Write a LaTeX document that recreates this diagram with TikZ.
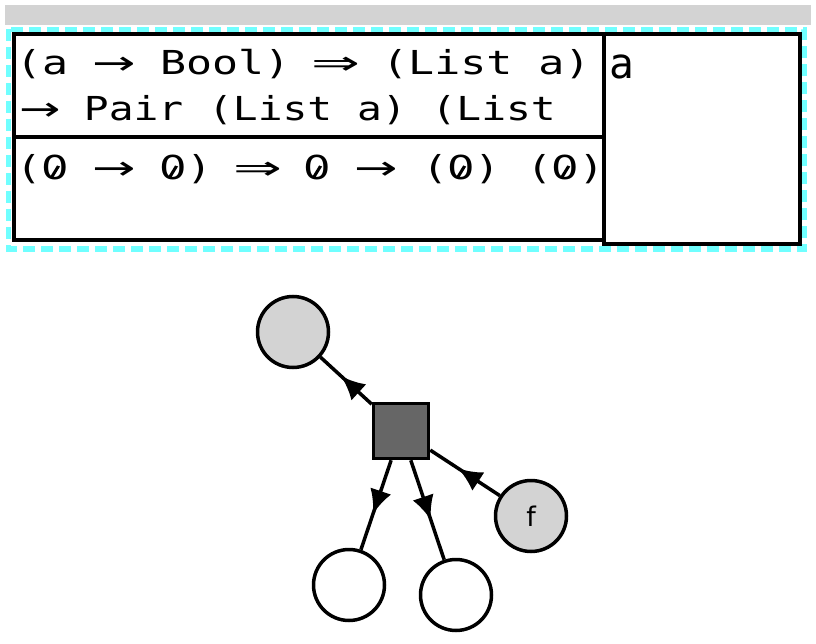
\documentclass[tikz,border=0pt]{standalone}
\usepackage{fontspec}
\usepackage{graphicx}
\usetikzlibrary{arrows.meta,decorations.markings}
\definecolor{dashcyan}{RGB}{112,255,255}
\definecolor{boxgray}{RGB}{211,211,211}
\definecolor{factorgray}{RGB}{102,102,102}
\newfontfamily\sigfont{DejaVu Sans Mono}
\newfontfamily\arrowfont{DejaVu Sans}
\newfontfamily\labelfont{DejaVu Sans}
% wide arrows, as in the signature text
\newcommand{\sra}{\makebox[30.5pt][c]{\arrowfont\scalebox{1.2}[1]{→}}}
\newcommand{\sRa}{\makebox[30.5pt][c]{\arrowfont\scalebox{1.35}[1]{⇒}}}
% slashed zero
\newcommand{\szero}{\makebox[0.602em][c]{\arrowfont 0}\llap{\makebox[0.602em][c]{\raisebox{0.2em}{\rotatebox[origin=c]{65}{\rule{0.38em}{0.075em}}}}}}

\begin{document}
\begin{tikzpicture}[x=1pt, y=-1pt, line width=4pt,
  sigtext/.style={anchor=base west, inner sep=0pt, font=\sigfont\fontsize{33}{40}\selectfont},
  var/.style={circle, draw=black, line width=3.5pt, minimum size=71pt, inner sep=0pt},
  factor/.style={rectangle, draw=black, fill=factorgray, line width=3.5pt, minimum size=55pt},
  midarrow/.style={line width=3.5pt, postaction={decorate},
    decoration={markings, mark=at position 0.6 with {\arrow{Latex[length=24pt,width=22pt]}}}}]
  \useasboundingbox (0,0) rectangle (816,644);

  % header strip and dashed frame
  \fill[boxgray] (5,5) rectangle (811,25);
  \draw[dashcyan, line width=5.5pt, dash pattern=on 11.7pt off 6.3pt] (8.5,29.5) rectangle (804,249);

  % table cells
  \draw (14,34.5) rectangle (603.7,240.5);
  \draw (14,137) -- (603.7,137);
  \draw (603.7,34.5) rectangle (799.7,243.7);

  \node[sigtext] (sigA) at (14,74.5) {\scalebox{1.31}[1]{(a \sra{} Bool) \sRa{} (List a)}};
  \node[sigtext] (sigB) at (19,121) {\scalebox{1.25}[1]{\sra{} Pair (List a) (List}};
  \node[sigtext] (sigC) at (14,179.5) {\scalebox{1.31}[1]{(\szero{} \sra{} \szero) \sRa{} \szero{} \sra{} (\szero) (\szero)}};
  \node[sigtext] (tvar) at (607,79) {\scalebox{1.25}[1.28]{a}};

  % factor graph
  \node[var, fill=boxgray] (out) at (293,332) {};
  \node[factor] (fac) at (401,431) {};
  \node[var, fill=boxgray, font=\labelfont\fontsize{27}{30}\selectfont] (f) at (531,516) {f};
  \node[var, fill=white] (argL) at (349,585) {};
  \node[var, fill=white] (argR) at (456,595) {};

  \draw[midarrow] (fac) -- (out);
  \draw[midarrow] (f) -- (fac);
  \draw[midarrow] (fac) -- (argL);
  \draw[midarrow] (fac) -- (argR);
\end{tikzpicture}
\end{document}
